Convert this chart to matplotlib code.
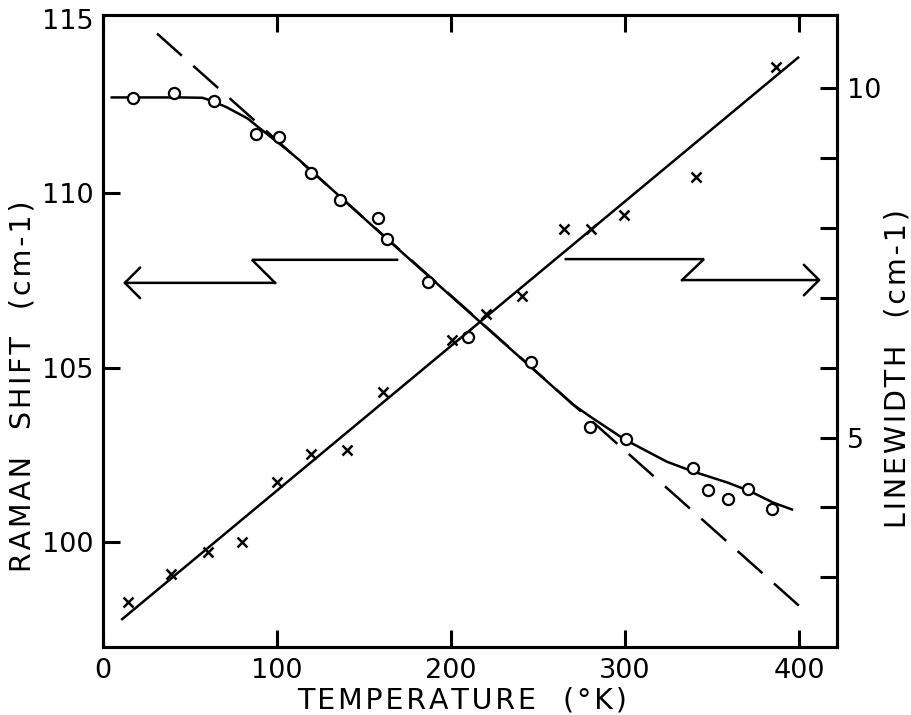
import matplotlib.pyplot as plt

plt.rcParams['font.family'] = ['DejaVu Sans']
plt.rcParams['lines.scale_dashes'] = False

# raman shift points (circles, left axis)
temp_circ = [17, 41, 64, 88, 101, 119.5, 136, 158, 163, 187, 210, 246, 280, 300.6, 339, 348, 359, 371, 384.5]
raman = [112.71, 112.86, 112.63, 111.69, 111.6, 110.57, 109.8, 109.29, 108.7, 107.46, 105.89, 105.17,
         103.29, 102.97, 102.14, 101.51, 101.23, 101.54, 100.94]

# linewidth points (crosses, right axis)
temp_cross = [14.4, 39, 60.5, 79.6, 100, 119.5, 140, 161, 200.6, 220, 241, 265, 280.5, 299.4, 341, 387]
linewidth = [2.65, 3.04, 3.36, 3.51, 4.37, 4.77, 4.82, 5.65, 6.39, 6.77, 7.03, 7.99, 7.99, 8.19, 8.73, 10.30]

# hand drawn curve through the raman points
fit_x = [5, 23, 45, 57, 61.5, 71, 83, 90, 106, 113, 160, 200, 240, 270, 280, 300, 324, 339, 359, 372, 385, 396]
fit_y = [112.74, 112.74, 112.74, 112.73, 112.66, 112.46, 112.14, 111.86, 111.23, 110.94, 108.83, 107.05,
         105.28, 103.95, 103.6, 102.94, 102.31, 102.03, 101.71, 101.46, 101.14, 100.94]

# dashed linear extrapolation (left axis)
dash_x = [31, 401]
dash_y = [114.57, 98.14]

# straight line through linewidth points (right axis)
lw_fit_x = [11, 399.5]
lw_fit_y = [2.40, 10.44]

# zig-zag arrows telling which axis belongs to which curve
left_arrow_x = [169, 85.6, 98.9, 11.5]
left_arrow_y = [108.09, 108.09, 107.43, 107.43]
right_arrow_x = [266, 345.4, 332.8, 412.6]
right_arrow_y = [108.11, 108.11, 107.51, 107.51]

FS = 19.5
LW = 1.8


def spaced(text):
    return '\u200a'.join(text)


def draw_arrow(ax, xs, ys):
    ax.plot(xs[:-1], ys[:-1], c='k', lw=LW, solid_joinstyle='miter')
    ax.annotate('', xy=(xs[-1], ys[-1]), xytext=(xs[-2], ys[-2]),
                arrowprops=dict(arrowstyle='->,head_length=0.55,head_width=0.55', mutation_scale=20,
                                color='k', lw=LW, shrinkA=0, shrinkB=0))


fig = plt.figure(figsize=(9.12, 7.15), dpi=100)
ax = fig.add_axes([0.113, 0.095, 0.805, 0.884])
ax2 = ax.twinx()

ax.plot(dash_x, dash_y, c='k', lw=LW, dashes=(24, 11))
ax.plot(fit_x, fit_y, c='k', lw=LW)
ax.plot(temp_circ, raman, ls='none', marker='o', ms=8, mew=1.6, mec='k', mfc='white', zorder=3)
draw_arrow(ax, left_arrow_x, left_arrow_y)
draw_arrow(ax, right_arrow_x, right_arrow_y)

ax2.plot(lw_fit_x, lw_fit_y, c='k', lw=LW)
ax2.plot(temp_cross, linewidth, ls='none', marker='x', ms=6.5, mew=1.8, c='k')

ax.set_xlim(0, 422)
ax.set_ylim(97, 115.1)
ax2.set_ylim(2, 11.05)

ax.set_xticks([0, 100, 200, 300, 400])
ax.set_yticks([100, 105, 110, 115])
ax2.set_yticks(range(3, 11))
ax2.set_yticklabels(['', '', '5', '', '', '', '', '10'])

for a in (ax, ax2):
    for s in a.spines.values():
        s.set_linewidth(2.2)
ax.tick_params(direction='in', length=12, width=2.2, labelsize=FS, pad=7, top=True)
ax.tick_params(axis='x', pad=8)
ax2.tick_params(direction='in', length=12, width=2.2, labelsize=FS, pad=7)
# 115 sits on the top frame, no tick mark drawn there
ax.yaxis.get_major_ticks()[-1].tick1line.set_visible(False)

fig.text(0.507, 0.02, spaced('TEMPERATURE') + '   ' + spaced('(°K)'), fontsize=20.5,
         ha='center', va='center')
fig.text(0.025, 0.46, spaced('RAMAN') + '   ' + spaced('SHIFT') + '   ' + spaced('(cm-1)'),
         fontsize=20.5, rotation=90, ha='center', va='center')
fig.text(0.984, 0.485, spaced('LINEWIDTH') + '   ' + spaced('(cm-1)'), fontsize=20.5,
         rotation=90, ha='center', va='center')

fig.savefig('out.png', dpi=100)
